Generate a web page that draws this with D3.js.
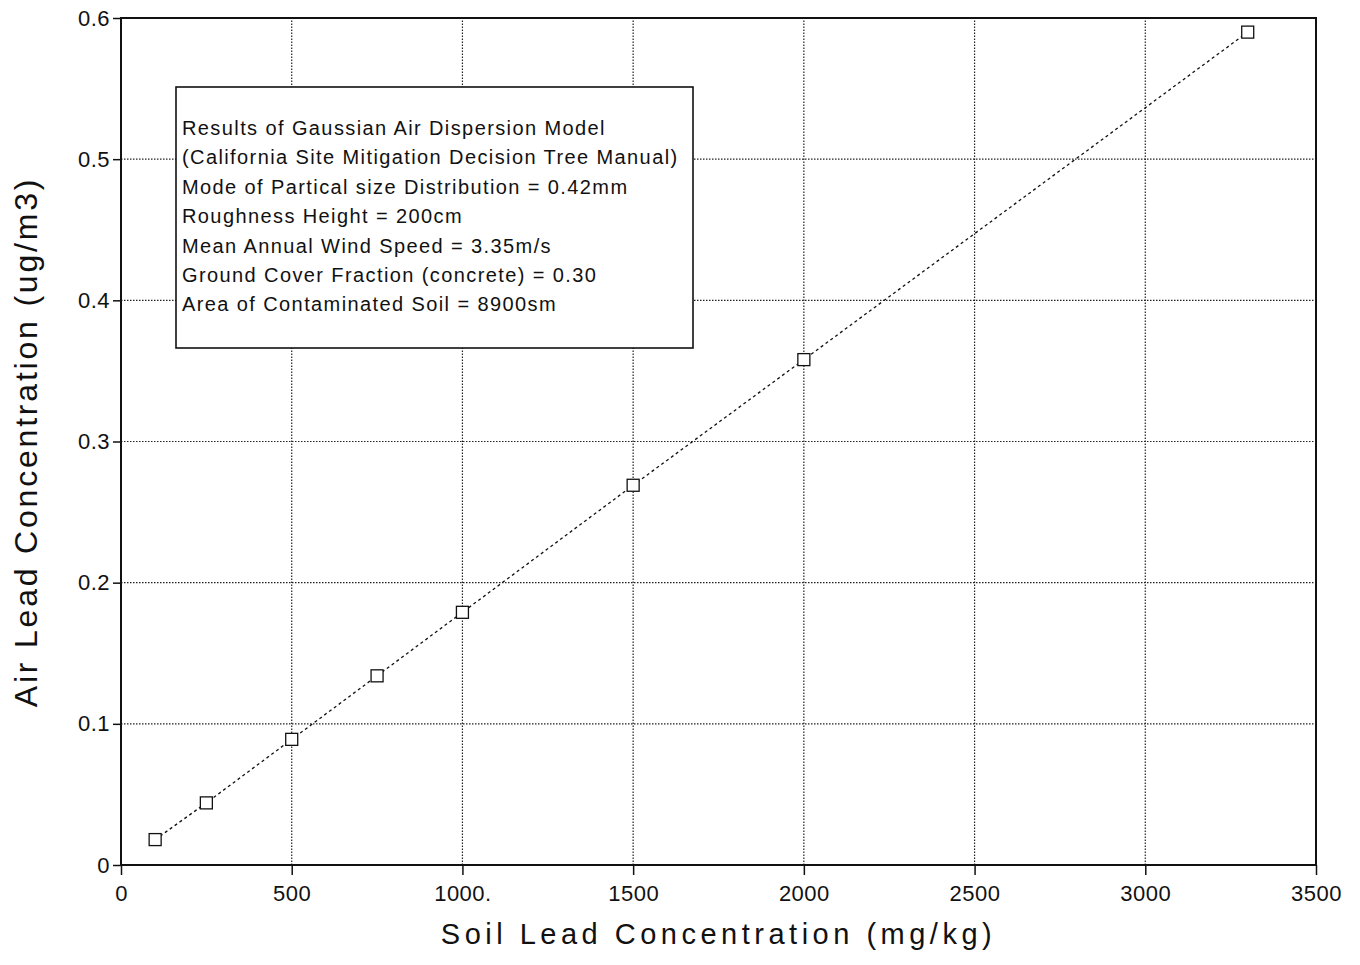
<!DOCTYPE html>
<html>
<head>
<meta charset="utf-8">
<script src="https://cdn.jsdelivr.net/npm/d3@7"></script>
<style>
  body { margin: 0; background: #fff; }
  text { font-family: "Liberation Sans", Arial, sans-serif; fill: #111; }
</style>
</head>
<body>
<div id="chart"></div>
<script>
function init() {
    var w = 1360;
    var h = 965;
    var margin = { left: 121, right: 44, top: 18, bottom: 100 };

    // Hard coded
    const soilLead = [100, 250, 500, 750, 1000, 1500, 2000, 3300];
    const airLead = [0.018, 0.044, 0.089, 0.134, 0.179, 0.269, 0.358, 0.59];
    const xTicks = [0, 500, 1000, 1500, 2000, 2500, 3000, 3500];
    const yTicks = [0, 0.1, 0.2, 0.3, 0.4, 0.5, 0.6];
    const noteLines = [
        "Results of Gaussian Air Dispersion Model",
        "(California Site Mitigation Decision Tree Manual)",
        "Mode of Partical size Distribution = 0.42mm",
        "Roughness Height = 200cm",
        "Mean Annual Wind Speed = 3.35m/s",
        "Ground Cover Fraction (concrete) = 0.30",
        "Area of Contaminated Soil = 8900sm"
    ];

    const svg = d3.select("#chart")
        .append("svg")
        .attr("width", w)
        .attr("height", h);

    const xScale = d3.scaleLinear()
        .domain([0, 3500])
        .range([margin.left, w - margin.right]);

    const yScale = d3.scaleLinear()
        .domain([0, 0.6])
        .range([h - margin.bottom, margin.top]);

    // grid
    svg.append("g")
        .selectAll("line")
        .data(xTicks.slice(1, -1))
        .enter()
        .append("line")
        .attr("x1", d => xScale(d))
        .attr("x2", d => xScale(d))
        .attr("y1", yScale(0))
        .attr("y2", yScale(0.6))
        .attr("stroke", "#222")
        .attr("stroke-width", 1.2)
        .attr("stroke-dasharray", "1.5,1.5");

    svg.append("g")
        .selectAll("line")
        .data(yTicks.slice(1, -1))
        .enter()
        .append("line")
        .attr("x1", xScale(0))
        .attr("x2", xScale(3500))
        .attr("y1", d => yScale(d))
        .attr("y2", d => yScale(d))
        .attr("stroke", "#222")
        .attr("stroke-width", 1.2)
        .attr("stroke-dasharray", "1.5,1.5");

    const xAxis = d3.axisBottom(xScale)
        .tickValues(xTicks)
        .tickSize(10)
        .tickSizeOuter(0)
        .tickFormat(d => d === 1000 ? "1000." : d);
    const yAxis = d3.axisLeft(yScale)
        .tickValues(yTicks)
        .tickSize(8)
        .tickSizeOuter(0)
        .tickFormat(d => d === 0 ? "0" : d3.format(".1f")(d));

    const gx = svg.append("g")
        .attr("transform", `translate(0, ${h - margin.bottom})`)
        .call(xAxis);
    const gy = svg.append("g")
        .attr("transform", `translate(${margin.left}, 0)`)
        .call(yAxis);

    [gx, gy].forEach(g => {
        g.select(".domain").remove();
        g.selectAll(".tick line").attr("stroke", "#111").attr("stroke-width", 1.5);
        g.selectAll(".tick text")
            .attr("font-size", 22)
            .attr("letter-spacing", 0.5)
            .attr("font-family", "Liberation Sans, Arial, sans-serif")
            .attr("fill", "#111");
    });
    gx.selectAll(".tick text").attr("dy", "1.05em");
    gy.selectAll(".tick text").attr("dx", "0em");

    // frame
    svg.append("rect")
        .attr("x", xScale(0))
        .attr("y", yScale(0.6))
        .attr("width", xScale(3500) - xScale(0))
        .attr("height", yScale(0) - yScale(0.6))
        .attr("fill", "none")
        .attr("stroke", "#111")
        .attr("stroke-width", 2);

    // series
    const points = soilLead.map((s, i) => ({ s: s, a: airLead[i] }));

    svg.append("path")
        .datum(points)
        .attr("d", d3.line().x(d => xScale(d.s)).y(d => yScale(d.a)))
        .attr("fill", "none")
        .attr("stroke", "#111")
        .attr("stroke-width", 1.3)
        .attr("stroke-dasharray", "3,3");

    svg.selectAll("rect.pt")
        .data(points)
        .enter()
        .append("rect")
        .attr("class", "pt")
        .attr("x", d => xScale(d.s) - 6)
        .attr("y", d => yScale(d.a) - 6)
        .attr("width", 12)
        .attr("height", 12)
        .attr("fill", "#fff")
        .attr("stroke", "#111")
        .attr("stroke-width", 1.3);

    // annotation box
    svg.append("rect")
        .attr("x", 176)
        .attr("y", 87)
        .attr("width", 517)
        .attr("height", 261)
        .attr("fill", "#fff")
        .attr("stroke", "#111")
        .attr("stroke-width", 1.6);

    svg.append("g")
        .selectAll("text")
        .data(noteLines)
        .enter()
        .append("text")
        .attr("x", 182)
        .attr("y", (d, i) => 135 + i * 29.4)
        .attr("font-size", 20)
        .attr("letter-spacing", 1.4)
        .text(d => d);

    // axis titles
    svg.append("text")
        .attr("x", (xScale(0) + xScale(3500)) / 2)
        .attr("y", 944)
        .attr("text-anchor", "middle")
        .attr("font-size", 29)
        .attr("letter-spacing", 4.5)
        .text("Soil Lead Concentration (mg/kg)");

    svg.append("text")
        .attr("transform", `translate(37, 442) rotate(-90)`)
        .attr("text-anchor", "middle")
        .attr("font-size", 32)
        .attr("letter-spacing", 2.8)
        .text("Air Lead Concentration (ug/m3)");
}

window.onload = init;
</script>
</body>
</html>
